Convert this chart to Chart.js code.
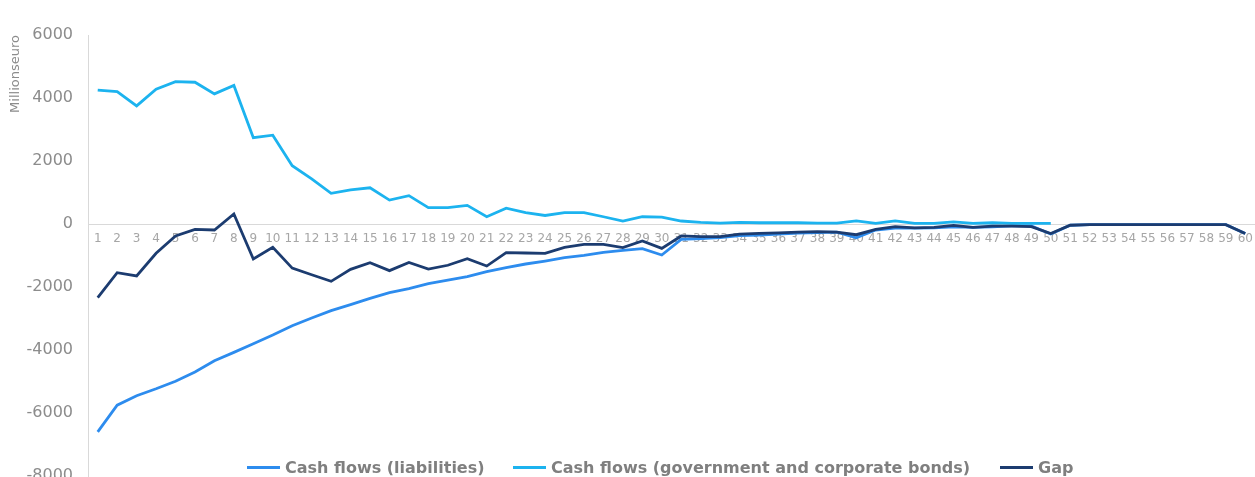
<!DOCTYPE html>
<html>
<head>
<meta charset="utf-8">
<script src="https://cdn.jsdelivr.net/npm/chart.js@4.4.1/dist/chart.umd.min.js"></script>
<style>
  html, body { margin: 0; padding: 0; background: #fff; overflow: hidden; }
  #wrap { position: relative; width: 1255px; height: 477px; }
  #legend { position: absolute; left: 0; top: 459px; width: 1255px; height: 20px;
    font: bold 16px "DejaVu Sans", Verdana, sans-serif; color: #7f7f7f; }
  .item { position: absolute; top: 0; white-space: nowrap; line-height: 18px; }
  .swatch { display: inline-block; width: 33px; height: 3px; vertical-align: middle; margin-right: 5px; position: relative; top: -1px; }
</style>
</head>
<body>
<div id="wrap">
  <canvas id="chart"></canvas>
  <div id="legend">
    <div class="item" style="left:247px"><span class="swatch" style="background:#2d8cee"></span>Cash flows (liabilities)</div>
    <div class="item" style="left:513px"><span class="swatch" style="background:#1cb3ef"></span>Cash flows (government and corporate bonds)</div>
    <div class="item" style="left:1000px"><span class="swatch" style="background:#1c3c70"></span>Gap</div>
  </div>
</div>
<script>
  // years 1..60
  const years = ["1","2","3","4","5","6","7","8","9","10",
    "11","12","13","14","15","16","17","18","19","20",
    "21","22","23","24","25","26","27","28","29","30",
    "31","32","33","34","35","36","37","38","39","40",
    "41","42","43","44","45","46","47","48","49","50",
    "51","52","53","54","55","56","57","58","59","60"];

  const liabilities = [-6600, -5750, -5450, -5230, -4990, -4700, -4340, -4075, -3800, -3525,
    -3230, -2985, -2750, -2560, -2360, -2180, -2050, -1890, -1780, -1670,
    -1515, -1385, -1270, -1175, -1070, -995, -900, -840, -785, -985,
    -490, -465, -435, -370, -350, -320, -290, -270, -260, -440,
    -190, -130, -130, -125, -90, -110, -90, -60, -60, -320,
    -40, -20, -20, -20, -20, -20, -20, -20, -20, -300];

  const bonds = [4250, 4200, 3750, 4280, 4520, 4500, 4130, 4400, 2740, 2820,
    1850, 1430, 975, 1080, 1150, 760, 900, 520, 520, 590,
    230, 500, 360, 270, 360, 360, 230, 95, 230, 220,
    95, 50, 30, 50, 40, 40, 40, 30, 30, 100,
    20, 100, 20, 20, 70, 20, 40, 20, 20, 20];

  const gap = [-2340, -1545, -1650, -930, -380, -170, -190, 320, -1110, -740,
    -1400, -1610, -1820, -1440, -1230, -1480, -1220, -1430, -1310, -1100,
    -1335, -910, -920, -930, -740, -645, -645, -750, -540, -775,
    -380, -400, -400, -320, -300, -280, -260, -245, -255, -340,
    -170, -85, -125, -105, -45, -105, -65, -65, -85, -300,
    -40, -20, -20, -20, -20, -20, -20, -20, -20, -300];

  const yTicks = [6000, 4000, 2000, 0, -2000, -4000, -6000, -8000];

  const line = (label, data, color, order) => ({
    label, data, order,
    borderColor: color, backgroundColor: color,
    borderWidth: 2.8, pointRadius: 0, tension: 0, fill: false,
  });

  new Chart(document.getElementById("chart"), {
    type: "line",
    data: {
      labels: years,
      datasets: [
        line("Cash flows (liabilities)", liabilities, "#2d8cee", 2),
        line("Cash flows (government and corporate bonds)", bonds, "#1cb3ef", 1),
        line("Gap", gap, "#1c3c70", 0),
      ],
    },
    options: {
      responsive: true, maintainAspectRatio: false, animation: false,
      layout: { padding: { top: 35, bottom: 1, left: 0, right: 0 } },
      plugins: { legend: { display: false }, tooltip: { enabled: false } },
      scales: {
        x: {
          position: { y: 0 },
          offset: true,
          grid: { color: "transparent", drawTicks: false },
          border: { display: true, color: "#d9d9d9", width: 1 },
          ticks: {
            autoSkip: false, maxRotation: 0, padding: 8, color: "#a6a6a6",
            font: { family: "DejaVu Sans", size: 12 },
          },
          afterFit: (s) => { s.height = 0; s.paddingLeft = 0; s.paddingRight = 0; },
        },
        y: {
          min: -8000, max: 6000,
          afterBuildTicks: (s) => { s.ticks = yTicks.map((v) => ({ value: v })); },
          grid: { color: "transparent", drawTicks: false },
          border: { display: true, color: "#d9d9d9", width: 1 },
          ticks: {
            padding: 15, color: "#8c8c8c",
            font: { family: "DejaVu Sans", size: 16 },
            callback: (v) => String(v),
          },
          title: {
            display: true, text: "Millionseuro", align: "end", color: "#8c8c8c",
            font: { family: "DejaVu Sans", size: 13 }, padding: { top: 8, bottom: 0 },
          },
          afterFit: (s) => { s.width = 88; s.paddingTop = 0; s.paddingBottom = 0; },
        },
      },
    },
  });
</script>
</body>
</html>
